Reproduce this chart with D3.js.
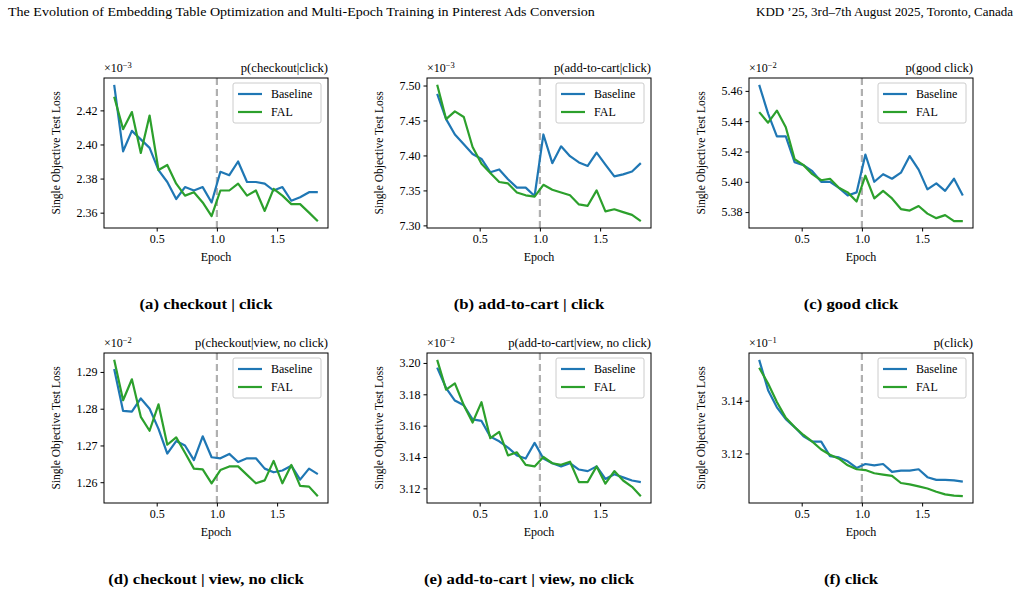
<!DOCTYPE html>
<html><head><meta charset="utf-8">
<script src="https://cdn.jsdelivr.net/npm/d3@7"></script>
<style>body{margin:0;background:#fff}svg{font-family:"Liberation Serif","DejaVu Serif",serif}</style>
</head><body><svg id="c" width="1023" height="594"></svg>
<script>
const epochs=[0.147,0.221,0.294,0.368,0.441,0.515,0.588,0.662,0.735,0.809,0.882,0.956,1.029,1.103,1.176,1.25,1.324,1.397,1.471,1.544,1.618,1.691,1.765,1.838];
const titles=["p(checkout|click)","p(add-to-cart|click)","p(good click)","p(checkout|view, no click)","p(add-to-cart|view, no click)","p(click)"];
const captions=["(a) checkout | click","(b) add-to-cart | click","(c) good click","(d) checkout | view, no click","(e) add-to-cart | view, no click","(f) click"];
const exponents=["−3","−3","−2","−2","−2","−1"];
const yTicks=[[2.36,2.38,2.40,2.42],[7.30,7.35,7.40,7.45,7.50],[5.38,5.40,5.42,5.44,5.46],[1.26,1.27,1.28,1.29],[3.12,3.14,3.16,3.18,3.20],[3.12,3.14]];
const xTicks=[0.5,1.0,1.5];
const baseline=[
[2.435,2.396,2.408,2.403,2.398,2.385,2.378,2.368,2.375,2.373,2.375,2.366,2.384,2.382,2.390,2.378,2.378,2.377,2.373,2.375,2.367,2.369,2.372,2.372],
[7.488,7.452,7.430,7.416,7.402,7.395,7.376,7.380,7.366,7.354,7.354,7.342,7.430,7.389,7.413,7.399,7.390,7.385,7.404,7.387,7.370,7.373,7.377,7.389],
[5.464,5.445,5.430,5.430,5.413,5.411,5.407,5.400,5.400,5.396,5.391,5.393,5.418,5.400,5.405,5.402,5.406,5.417,5.408,5.395,5.399,5.394,5.402,5.391],
[1.2908,1.2794,1.2792,1.2828,1.2800,1.2745,1.2678,1.2712,1.2700,1.2660,1.2725,1.2668,1.2665,1.2677,1.2655,1.2665,1.2665,1.2637,1.2627,1.2632,1.2645,1.2607,1.2637,1.2622],
[3.197,3.184,3.176,3.173,3.164,3.163,3.153,3.150,3.146,3.141,3.139,3.149,3.139,3.136,3.134,3.136,3.132,3.131,3.134,3.126,3.129,3.127,3.125,3.124],
[3.1555,3.1440,3.1375,3.1330,3.1300,3.1265,3.1245,3.1245,3.1190,3.1185,3.1170,3.1145,3.1160,3.1155,3.1160,3.1130,3.1135,3.1135,3.1140,3.1110,3.1100,3.1100,3.1098,3.1093]];
const fal=[
[2.428,2.409,2.419,2.395,2.417,2.385,2.388,2.377,2.370,2.372,2.366,2.358,2.373,2.373,2.377,2.370,2.373,2.361,2.374,2.370,2.365,2.365,2.360,2.355],
[7.501,7.452,7.463,7.455,7.412,7.388,7.375,7.362,7.360,7.347,7.343,7.341,7.358,7.351,7.347,7.343,7.330,7.328,7.350,7.320,7.323,7.319,7.315,7.306],
[5.446,5.439,5.447,5.436,5.415,5.411,5.405,5.401,5.402,5.396,5.393,5.387,5.404,5.389,5.394,5.389,5.382,5.381,5.384,5.379,5.376,5.378,5.374,5.374],
[1.2933,1.2823,1.2880,1.2778,1.2740,1.2812,1.2702,1.2722,1.2680,1.2637,1.2635,1.2597,1.2633,1.2643,1.2643,1.2620,1.2597,1.2605,1.2658,1.2597,1.2647,1.2590,1.2588,1.2562],
[3.202,3.183,3.187,3.173,3.162,3.175,3.152,3.156,3.141,3.143,3.135,3.134,3.140,3.136,3.135,3.137,3.124,3.124,3.134,3.123,3.131,3.125,3.121,3.115],
[3.1525,3.1465,3.1395,3.1335,3.1300,3.1270,3.1245,3.1215,3.1195,3.1180,3.1155,3.1140,3.1137,3.1125,3.1120,3.1115,3.1088,3.1083,3.1075,3.1067,3.1055,3.1045,3.1040,3.1038]];
const series=[{name:"Baseline",color:"#1f77b4",data:baseline},{name:"FAL",color:"#2ca02c",data:fal}];

const svg=d3.select("#c");
function stretch(sel,f){const n=sel.node();const w=n.getComputedTextLength();sel.attr("textLength",w*f).attr("lengthAdjust","spacingAndGlyphs");}
stretch(svg.append("text").attr("x",8).attr("y",16).attr("font-size",12).text("The Evolution of Embedding Table Optimization and Multi-Epoch Training in Pinterest Ads Conversion"),1.17);
stretch(svg.append("text").attr("x",1013).attr("y",16).attr("text-anchor","end").attr("font-size",12).text("KDD ’25, 3rd–7th August 2025, Toronto, Canada"),1.08);

const lefts=[104,427,749], tops=[78,353], W=224, H=150;
function pad(ext){const d=(ext[1]-ext[0])*0.05;return [ext[0]-d,ext[1]+d];}
for(let k=0;k<6;k++){
  const L=lefts[k%3], T=tops[Math.floor(k/3)];
  const g=svg.append("g").attr("transform",`translate(${L},${T})`);
  const x=d3.scaleLinear().domain(pad(d3.extent(epochs))).range([0,W]);
  const all=baseline[k].concat(fal[k]);
  const y=d3.scaleLinear().domain(pad(d3.extent(all))).range([H,0]);
  g.append("g").attr("transform",`translate(0,${H})`).call(d3.axisBottom(x).tickValues(xTicks).tickFormat(d3.format(".1f")).tickSize(3.5).tickSizeOuter(0))
   .call(a=>{a.select(".domain").remove();a.selectAll("text").attr("font-size",12).attr("font-family","Liberation Serif");});
  g.append("g").call(d3.axisLeft(y).tickValues(yTicks[k]).tickFormat(d3.format(".2f")).tickSize(3.5).tickSizeOuter(0))
   .call(a=>{a.select(".domain").remove();a.selectAll("text").attr("font-size",12).attr("font-family","Liberation Serif");});
  g.append("line").attr("x1",x(1)).attr("x2",x(1)).attr("y1",0).attr("y2",H).attr("stroke","#b0b0b0").attr("stroke-width",2.2).attr("stroke-dasharray","7,4");
  const line=d3.line().x((d,i)=>x(epochs[i])).y(d=>y(d));
  series.forEach(s=>g.append("path").datum(s.data[k]).attr("d",line).attr("fill","none").attr("stroke",s.color).attr("stroke-width",2.2).attr("stroke-linejoin","round"));
  g.append("rect").attr("width",W).attr("height",H).attr("fill","none").attr("stroke","#000").attr("stroke-width",1);
  const lg=g.append("g").attr("transform",`translate(${W-95},5)`);
  lg.append("rect").attr("width",88).attr("height",40).attr("rx",2).attr("fill","#fff").attr("fill-opacity",0.8).attr("stroke","#ccc");
  series.forEach((s,i)=>{
    lg.append("line").attr("x1",5).attr("x2",29).attr("y1",11+i*18).attr("y2",11+i*18).attr("stroke",s.color).attr("stroke-width",2.2);
    lg.append("text").attr("x",38).attr("y",15+i*18).attr("font-size",12).text(s.name);
  });
  stretch(g.append("text").attr("x",W).attr("y",-6).attr("text-anchor","end").attr("font-size",12).text(titles[k]),1.05);
  const m=g.append("text").attr("x",0).attr("y",-6).attr("font-size",12);
  m.append("tspan").text("×10");
  m.append("tspan").attr("dy",-4).attr("font-size",8.5).text(exponents[k]);
  g.append("text").attr("transform",`translate(-44,${H/2}) rotate(-90)`).attr("text-anchor","middle").attr("font-size",11.5).text("Single Objective Test Loss");
  g.append("text").attr("x",W/2).attr("y",H+33).attr("text-anchor","middle").attr("font-size",12).text("Epoch");
  stretch(g.append("text").attr("x",W/2-10).attr("y",H+81).attr("text-anchor","middle").attr("font-size",14.5).attr("font-weight","bold").text(captions[k]),1.15);
}
</script></body></html>
